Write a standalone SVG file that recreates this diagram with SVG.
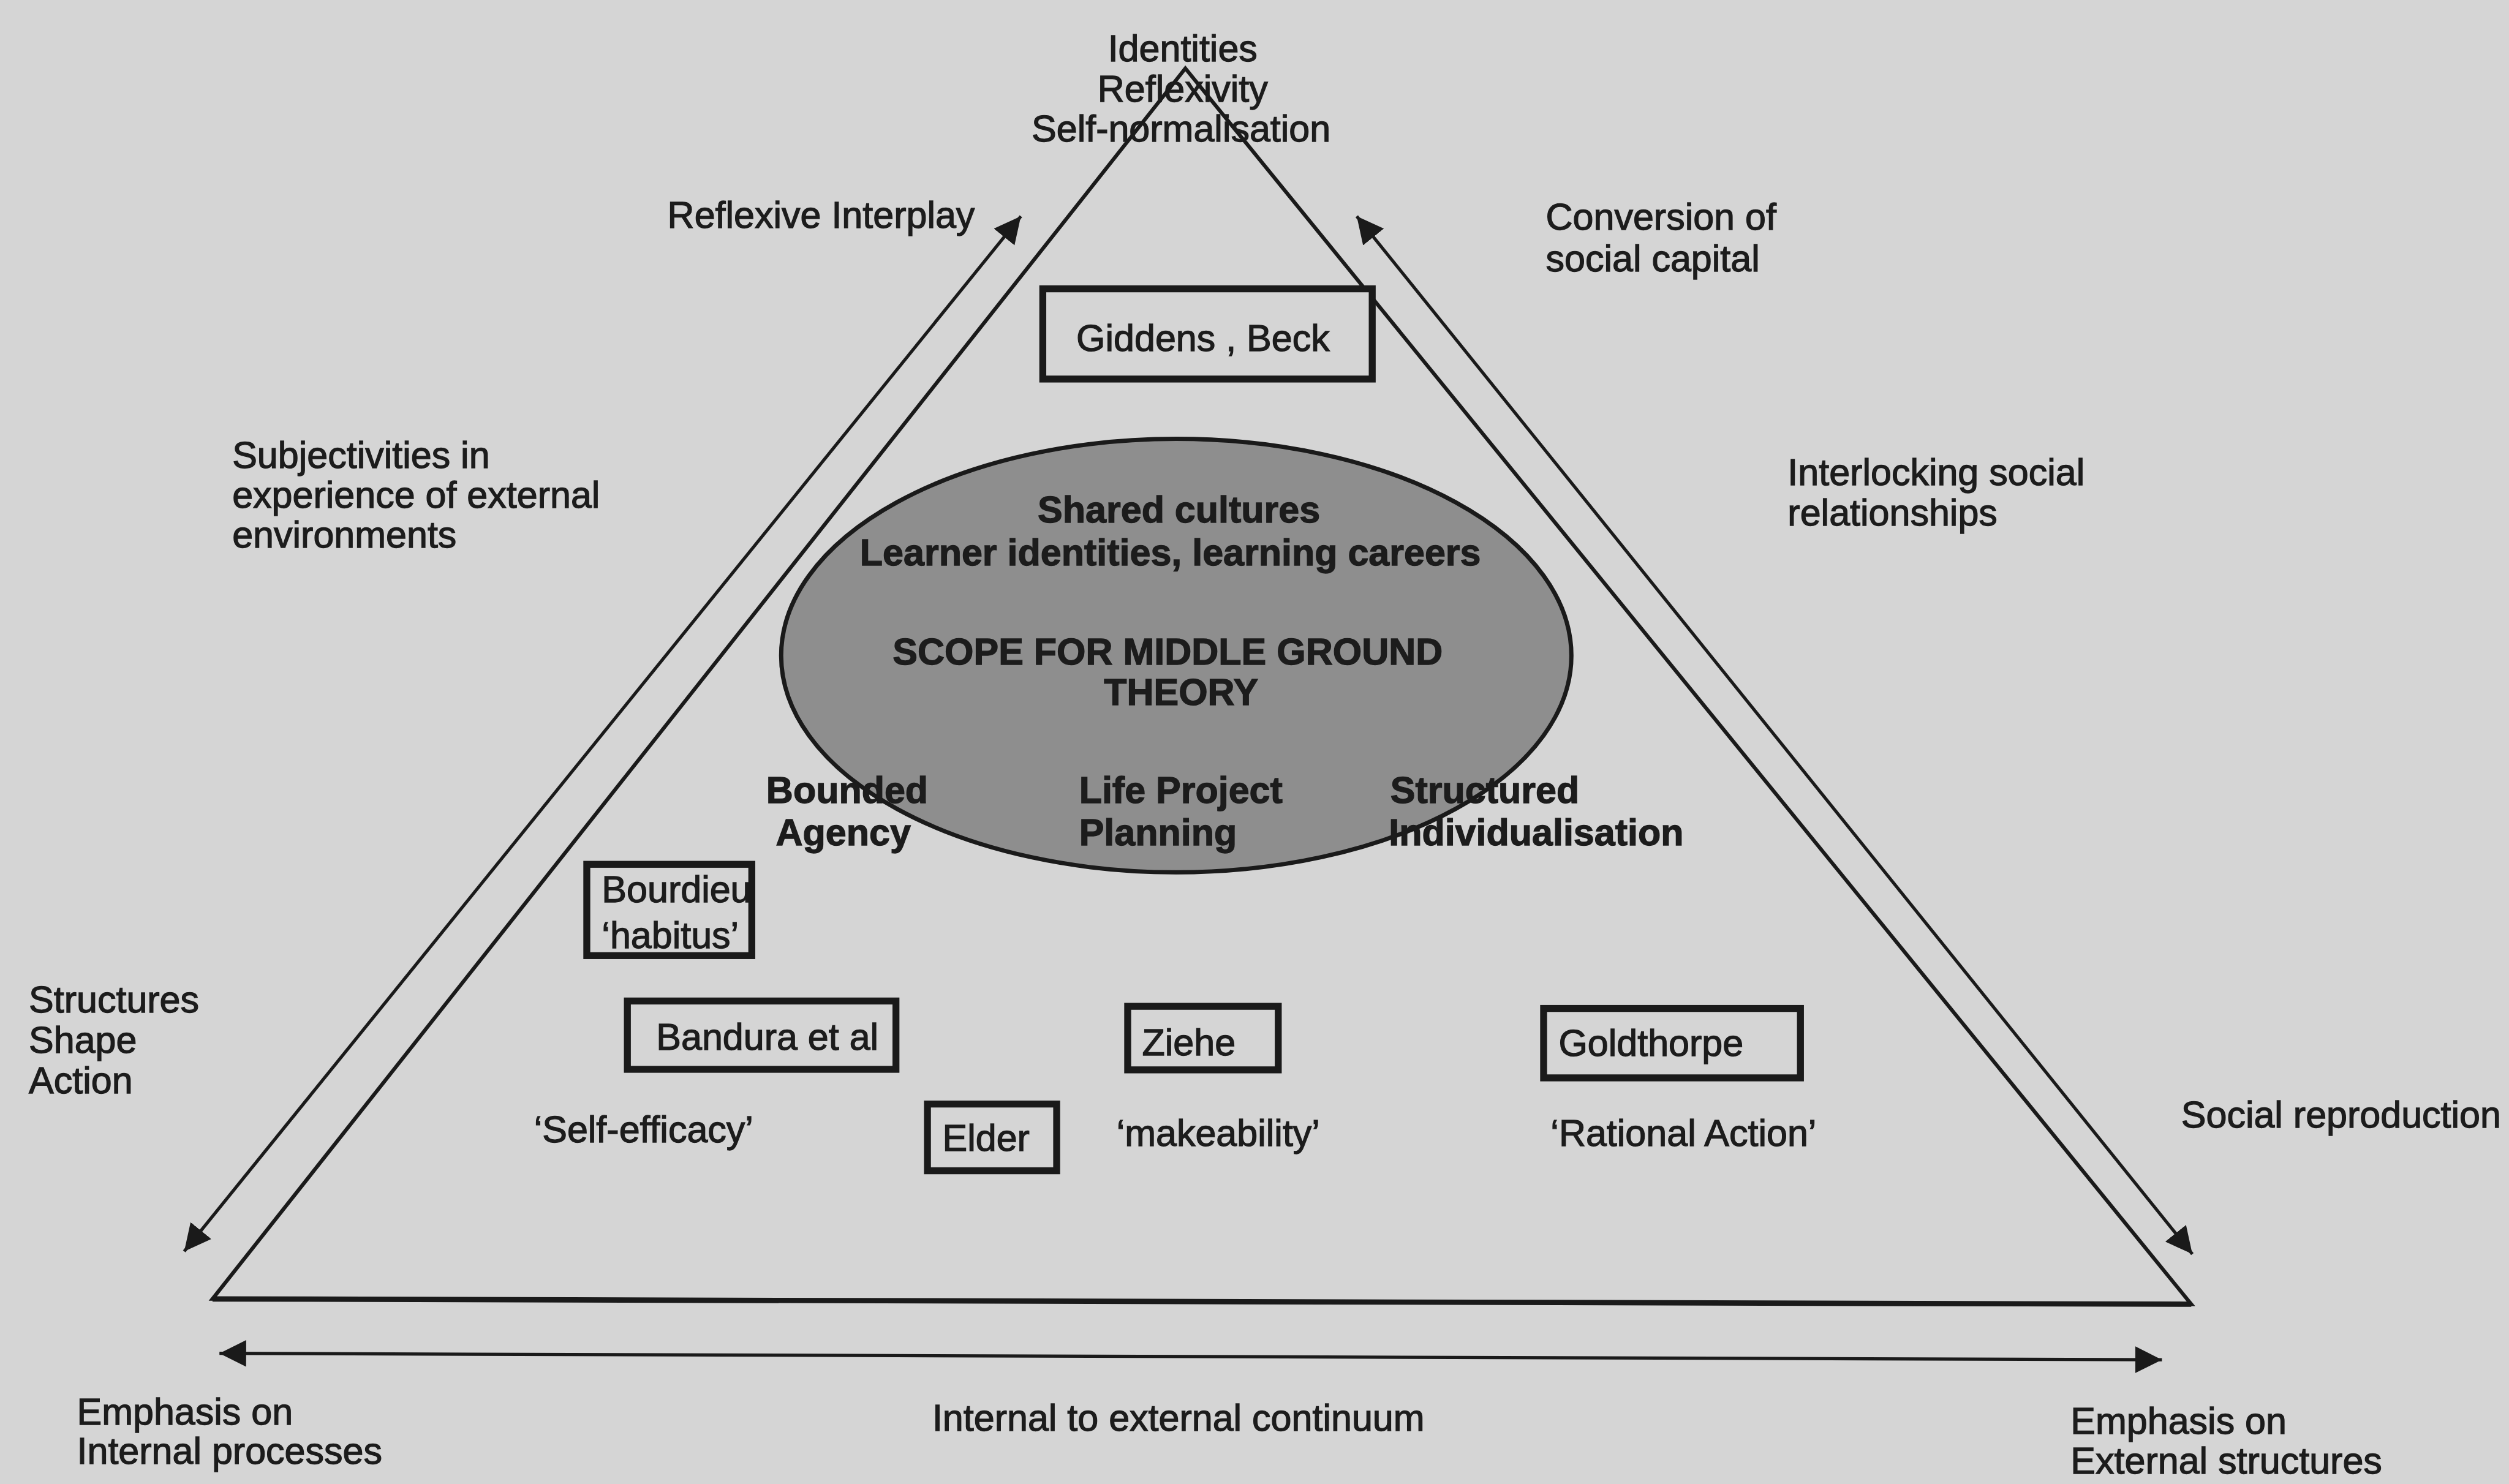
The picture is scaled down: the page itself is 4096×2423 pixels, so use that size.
<svg xmlns="http://www.w3.org/2000/svg" width="4096" height="2423" viewBox="0 0 4096 2423">
<style>
.t{font-family:"Liberation Sans",Arial,sans-serif;font-size:70px;fill:#1c1c1c;stroke:#1c1c1c;stroke-width:1.5}
.b{font-weight:bold}
.m{text-anchor:middle}
.box{fill:#d5d5d5;stroke:#1a1a1a;stroke-width:13}
.conn{stroke:#1a1a1a;stroke-width:6;fill:none;marker-start:url(#ah);marker-end:url(#ah)}
</style>
<defs>
<marker id="ah" markerUnits="userSpaceOnUse" markerWidth="52" markerHeight="52" refX="50" refY="25" orient="auto-start-reverse" viewBox="0 0 52 52">
<path d="M0,0 L50,25 L0,50 z" fill="#1a1a1a"/>
</marker>
</defs>
<rect x="0" y="0" width="4096" height="2423" fill="#d5d5d5"/>
<g transform="scale(0.87167)">
<g id="triangle">
<polygon points="2220,128 398,2433 4104,2443" fill="none" stroke="#1a1a1a" stroke-width="7" stroke-linejoin="miter"/>
<line x1="398" y1="2433" x2="4104" y2="2443" stroke="#1a1a1a" stroke-width="10"/>
</g>
<g id="connectors">
<line class="conn" x1="345" y1="2344" x2="1912" y2="405"/>
<line class="conn" x1="2541" y1="405" x2="4106" y2="2349"/>
<line class="conn" x1="411" y1="2535" x2="4049" y2="2547"/>
</g>
<g id="apex-label">
<text class="t m" x="2215" y="115">Identities</text>
<text class="t m" x="2215" y="190">Reflexivity</text>
<text class="t m" x="2212" y="265">Self-normalisation</text>
</g>
<g id="label-reflexive-interplay"><text class="t" x="1250" y="427">Reflexive Interplay</text></g>
<g id="label-conversion"><text class="t" x="2895" y="430">Conversion of</text><text class="t" x="2895" y="508">social capital</text></g>
<g id="label-subjectivities"><text class="t" x="435" y="876">Subjectivities in</text><text class="t" x="435" y="951">experience of external</text><text class="t" x="435" y="1026">environments</text></g>
<g id="label-interlocking"><text class="t" x="3348" y="909">Interlocking social</text><text class="t" x="3348" y="984">relationships</text></g>
<g id="node-giddens">
<rect class="box" x="1953" y="541" width="617" height="169"/>
<text class="t m" x="2253" y="657">Giddens , Beck</text>
</g>
<g id="node-scope">
<ellipse cx="2203" cy="1228" rx="740" ry="406" fill="#8e8e8e" stroke="#1a1a1a" stroke-width="8"/>
<text class="t b m" x="2208" y="979">Shared cultures</text>
<text class="t b m" x="2192" y="1059">Learner identities, learning careers</text>
<text class="t b m" x="2187" y="1245">SCOPE FOR MIDDLE GROUND</text>
<text class="t b m" x="2212" y="1320">THEORY</text>
</g>
<g id="label-bounded"><text class="t b" x="1435" y="1504">Bounded</text><text class="t b" x="1453" y="1583">Agency</text></g>
<g id="label-life-project"><text class="t b" x="2021" y="1504">Life Project</text><text class="t b" x="2021" y="1583">Planning</text></g>
<g id="label-structured"><text class="t b" x="2604" y="1504">Structured</text><text class="t b" x="2601" y="1583">Individualisation</text></g>
<g id="node-bourdieu">
<rect class="box" x="1099" y="1619" width="309" height="171"/>
<text class="t" x="1127" y="1690">Bourdieu</text>
<text class="t" x="1127" y="1776">‘habitus’</text>
</g>
<g id="node-bandura">
<rect class="box" x="1175" y="1875" width="503" height="128"/>
<text class="t" x="1229" y="1966">Bandura et al</text>
</g>
<g id="node-elder">
<rect class="box" x="1737" y="2068" width="242" height="125"/>
<text class="t" x="1765" y="2156">Elder</text>
</g>
<g id="node-ziehe">
<rect class="box" x="2112" y="1885" width="282" height="119"/>
<text class="t" x="2139" y="1977">Ziehe</text>
</g>
<g id="node-goldthorpe">
<rect class="box" x="2891" y="1889" width="481" height="130"/>
<text class="t" x="2919" y="1978">Goldthorpe</text>
</g>
<g id="label-self-efficacy"><text class="t" x="1000" y="2139">‘Self-efficacy’</text></g>
<g id="label-makeability"><text class="t" x="2091" y="2147">‘makeability’</text></g>
<g id="label-rational-action"><text class="t" x="2904" y="2147">‘Rational Action’</text></g>
<g id="label-structures"><text class="t" x="54" y="1896">Structures</text><text class="t" x="54" y="1972">Shape</text><text class="t" x="54" y="2048">Action</text></g>
<g id="label-social-reproduction"><text class="t" x="4085" y="2112">Social reproduction</text></g>
<g id="label-internal"><text class="t" x="144" y="2668">Emphasis on</text><text class="t" x="144" y="2742">Internal processes</text></g>
<g id="label-continuum"><text class="t" x="1746" y="2680">Internal to external continuum</text></g>
<g id="label-external"><text class="t" x="3878" y="2686">Emphasis on</text><text class="t" x="3878" y="2760">External structures</text></g>
</g>
</svg>
